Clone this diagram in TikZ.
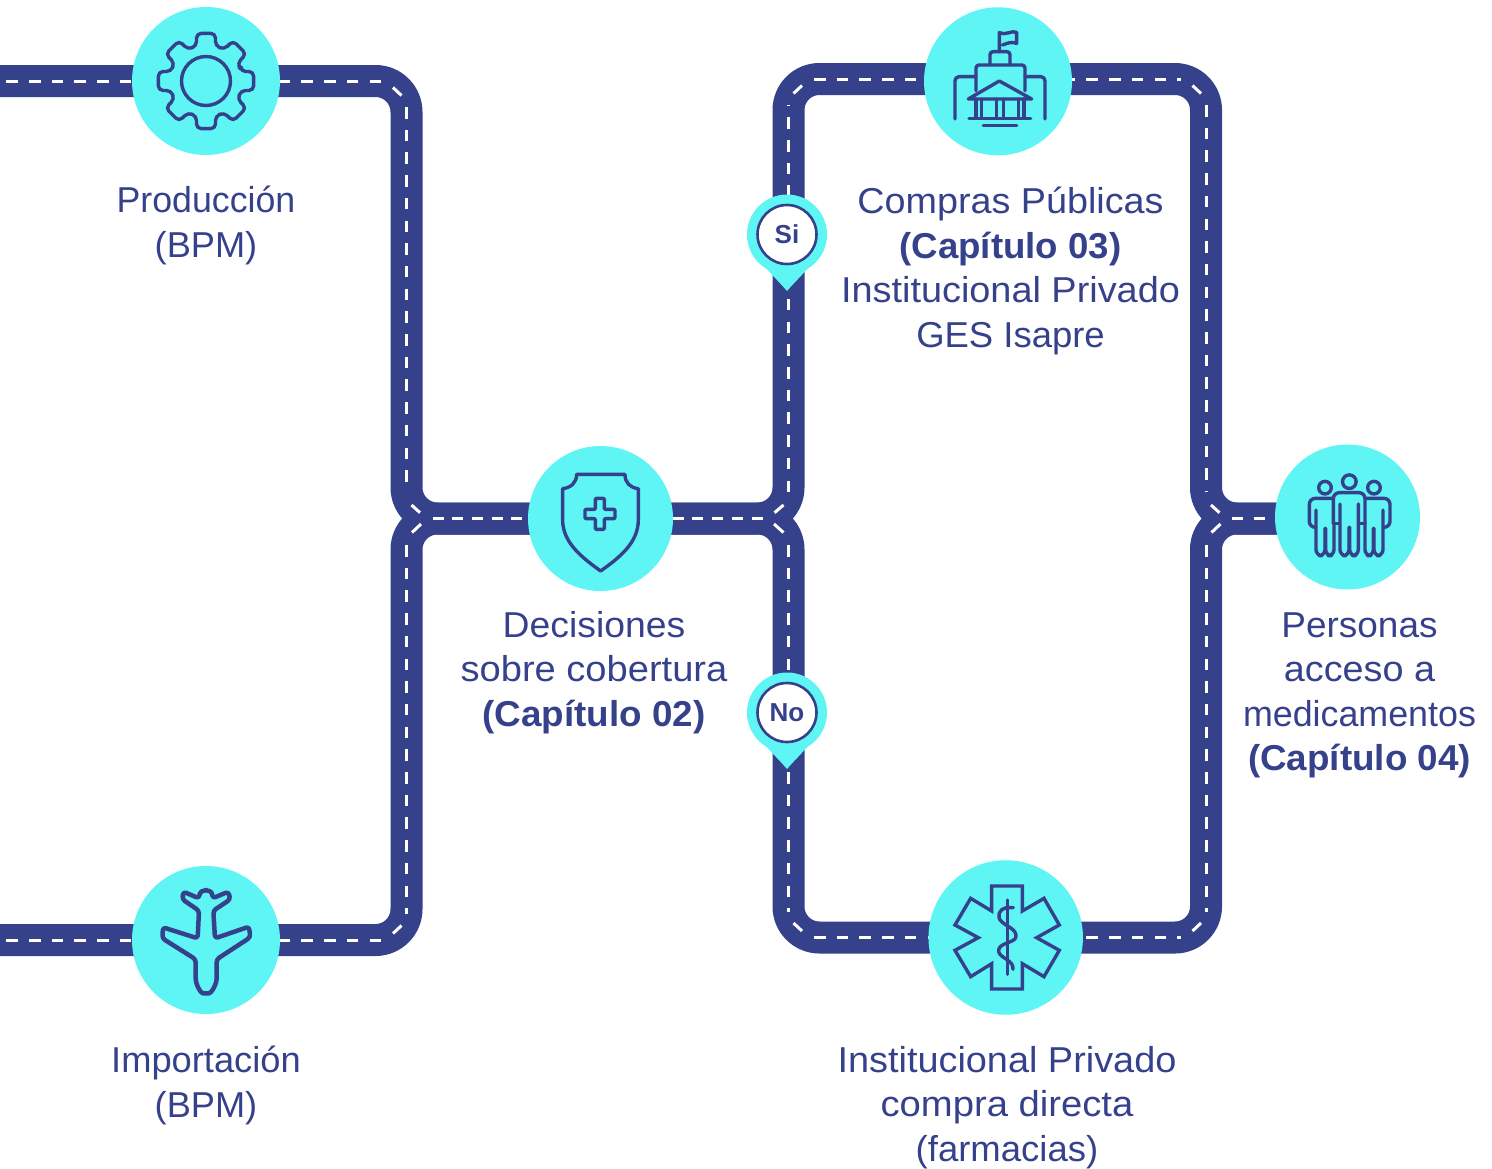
\documentclass[tikz,border=0pt]{standalone}
\usepackage{fontspec}
\usepackage{graphicx}
\setmainfont{Liberation Sans}
\usetikzlibrary{calc,backgrounds}
\definecolor{navy}{RGB}{54,65,139}
\definecolor{aqua}{RGB}{95,245,245}
\newcommand{\fitw}[2]{\scalebox{#1}[1]{#2}}
\tikzset{
  road/.style={draw=navy,line width=32pt,rounded corners=31pt},
  lane/.style={draw=white,line width=3pt,dash pattern=on 11.5pt off 11.2pt},
  laneb/.style={draw=white,line width=3pt,dash pattern=on 11pt off 8.7pt},
  stub/.style={draw=white,line width=3pt},
  hub/.style={circle,fill=aqua,inner sep=0pt},
  lbl/.style={align=center,text=navy,inner sep=0pt,font=\fontsize{36pt}{44.6pt}\selectfont},
  pinring/.style={circle,draw=navy,fill=white,line width=2.6pt,minimum size=59pt,inner sep=0pt,text=navy,font=\fontsize{26pt}{30pt}\selectfont\bfseries},
  pinback/.style={circle,fill=aqua,minimum size=80pt,inner sep=0pt},
  icon/.style={draw=navy,line width=3.4pt,line cap=round,line join=round}
}
\begin{document}
\begin{tikzpicture}[x=1pt,y=-1pt]
\useasboundingbox (0,0) rectangle (1492,1168);
% hubs
\node[hub,minimum size=148pt] (prod) at (206,81) {};
\node[hub,minimum size=148pt] (imp) at (206,940) {};
\node[hub,minimum size=145pt] (dec) at (600.5,518.5) {};
\node[hub,minimum size=148pt] (comp) at (998,81.3) {};
\node[hub,minimum size=154.5pt] (inst) at (1005.7,937.5) {};
\node[hub,minimum size=145pt] (pers) at (1347.5,517) {};
% road waypoints
\coordinate (eA) at (0,81);
\coordinate (eB) at (0,940);
\coordinate (cTL) at (406.5,81);
\coordinate (jL) at (406.5,518.5);
\coordinate (cBL) at (406.5,940);
\coordinate (cTM) at (788.5,79);
\coordinate (jM) at (788.5,518.5);
\coordinate (cBM) at (788.5,937.5);
\coordinate (cTR) at (1206,79);
\coordinate (jR) at (1206,518.5);
\coordinate (cBR) at (1206,937.5);
\begin{pgfonlayer}{background}
\draw[road] (eA) -- (prod.center) -- (cTL) -- (jL) -- (dec.center);
\draw[road] (eB) -- (imp.center) -- (cBL) -- (jL) -- (dec.center);
\draw[road] (dec.center) -- (jM) -- (cTM) -- (cTR) -- (jR) -- (jR -| pers.center);
\draw[road] (dec.center) -- (jM) -- (cBM) -- (cBR) -- (jR) -- (jR -| pers.center);
% lane markings
\draw[lane] ($(cTL)+(-25.5,0)$) -- (eA);
\draw[stub] ($(cTL)+(-13.5,6.5)$) -- ($(cTL)+(-5,14.5)$);
\draw[lane] ($(cTL)+(0,26)$) -- ($(jL)+(0,-26.5)$);
\draw[stub] ($(jL)+(5,-13.5)$) -- ($(jL)+(13.5,-5.8)$);
\draw[stub] ($(jL)+(14.5,5.5)$) -- ($(jL)+(5.5,14)$);
\draw[lane] ($(jL)+(0,26.5)$) -- ($(cBL)+(0,-26)$);
\draw[stub] ($(cBL)+(-5,-14.5)$) -- ($(cBL)+(-13.5,-6.5)$);
\draw[lane] ($(cBL)+(-25.5,0)$) -- (eB);
\draw[laneb] ($(jL)+(26,0)$) -- (dec.center);
\draw[laneb] ($(jM)+(-26,0)$) -- (dec.center);
\draw[stub] ($(jM)+(-5,-13.5)$) -- ($(jM)+(-14,-5.8)$);
\draw[stub] ($(jM)+(-14.5,5.5)$) -- ($(jM)+(-5,14)$);
\draw[lane] ($(jM)+(0,-26.5)$) -- ($(cTM)+(0,26)$);
\draw[stub] ($(cTM)+(5,14.5)$) -- ($(cTM)+(13.5,6.5)$);
\draw[lane] ($(cTM)+(25.5,0)$) -- ($(cTR)+(-25.5,0)$);
\draw[stub] ($(cTR)+(-13.5,6.5)$) -- ($(cTR)+(-5,14.5)$);
\draw[lane] ($(cTR)+(0,26)$) -- ($(jR)+(0,-26.5)$);
\draw[lane] ($(jM)+(0,26.5)$) -- ($(cBM)+(0,-26)$);
\draw[stub] ($(cBM)+(5,-14.5)$) -- ($(cBM)+(13.5,-6.5)$);
\draw[lane] ($(cBM)+(25.5,0)$) -- ($(cBR)+(-25.5,0)$);
\draw[stub] ($(cBR)+(-5,-14.5)$) -- ($(cBR)+(-13.5,-6.5)$);
\draw[lane] ($(jR)+(0,26.5)$) -- ($(cBR)+(0,-26)$);
\draw[stub] ($(jR)+(5,-13.5)$) -- ($(jR)+(13.5,-5.8)$);
\draw[stub] ($(jR)+(14.5,5.5)$) -- ($(jR)+(5.5,14)$);
\draw[laneb,dash pattern=on 11pt off 10.5pt] ($(jR)+(26,0)$) -- (jR -| pers.center);
\end{pgfonlayer}
% gear
\begin{scope}[shift={(206,81)}]
\draw[icon] (0,0) circle[radius=24.5pt];
\draw[icon,rounded corners=4.5pt] (-15.2:36.3)
  \foreach \a in {0,45,...,315}{ -- (\a-11.2:48.5) -- (\a+11.2:48.5) -- (\a+15.2:36.3) -- (\a+29.8:36.3)} -- cycle;
\end{scope}
% building (zoom coordinates)
\begin{scope}[shift={(900,0)},x=0.3333pt,y=-0.3333pt]
\draw[icon] (298,155) -- (298,98) .. controls (315,108) and (335,90) .. (350,97) -- (350,130) .. controls (335,124) and (320,130) .. (308,135);
\draw[icon,rounded corners=3pt] (270,195) -- (270,155) -- (330,155) -- (330,195);
\draw[icon,rounded corners=3pt] (228,272) -- (228,195) -- (375,195) -- (375,272);
\draw[icon,rounded corners=4pt] (165,357) -- (165,230) -- (228,230);
\draw[icon,rounded corners=4pt] (435,357) -- (435,230) -- (375,230);
\draw[icon] (205,297) -- (298,243) -- (395,297) -- cycle;
\foreach \cx in {228,245,290,310,355,372}{\draw[icon] (\cx,297) -- (\cx,355);}
\draw[icon] (207,355) -- (392,355);
\draw[icon] (250,376) -- (350,376);
\end{scope}
% shield
\begin{scope}[shift={(380,440)},x=0.3333pt,y=-0.3333pt]
\draw[icon] (590,103) -- (735,103) .. controls (735,128) and (750,143) .. (775,146) -- (775,240) .. controls (775,310) and (715,355) .. (662,393) .. controls (610,355) and (548,310) .. (548,240) -- (548,146) .. controls (573,143) and (590,128) .. (590,103) -- cycle;
\draw[icon,rounded corners=1pt] (646,175) -- (673,175) -- (673,208) -- (705,208) -- (705,236) -- (673,236) -- (673,268) -- (646,268) -- (646,236) -- (615,236) -- (615,208) -- (646,208) -- cycle;
\end{scope}
% people
\begin{scope}[shift={(1180,440)},x=0.3333pt,y=-0.3333pt]
\draw[icon] (508,125) circle[radius=6.8pt];
\draw[icon] (435,143) circle[radius=6.3pt];
\draw[icon] (582,143) circle[radius=6.3pt];
\draw[icon,rounded corners=6pt] (460,250) -- (460,158) -- (555,158) -- (555,250);
\draw[icon] (460,250) -- (475,250);
\draw[icon] (555,250) -- (540,250);
\draw[icon,rounded corners=6pt] (480,192) -- (480,347) -- (507,347) -- (507,262);
\draw[icon,rounded corners=6pt] (509,262) -- (509,347) -- (535,347) -- (535,192);
\draw[icon,rounded corners=6pt] (458,175) -- (388,175) -- (388,262) -- (407,262);
\draw[icon,rounded corners=6pt] (408,210) -- (408,347) -- (435,347) -- (435,265);
\draw[icon,rounded corners=6pt] (437,265) -- (437,347) -- (462,347) -- (462,250);
\draw[icon,rounded corners=6pt] (558,175) -- (630,175) -- (630,262) -- (610,262);
\draw[icon,rounded corners=6pt] (609,210) -- (609,347) -- (582,347) -- (582,265);
\draw[icon,rounded corners=6pt] (580,265) -- (580,347) -- (555,347) -- (555,250);
\end{scope}
% star of life
\begin{scope}[shift={(920,855)},x=0.3333pt,y=-0.3333pt]
\draw[icon,line join=miter] (215,93) -- (307,93) -- (307,168) -- (372,130) -- (418,210) -- (350,248) -- (418,286) -- (372,365) -- (307,326) -- (307,402) -- (215,402) -- (215,326) -- (152,365) -- (105,286) -- (175,248) -- (105,210) -- (152,130) -- (215,168) -- cycle;
\draw[icon] (262,135) -- (262,358);
\draw[icon] (280,158) -- (258,158) .. controls (238,162) and (228,185) .. (245,200) .. controls (260,215) and (290,222) .. (288,245) .. controls (286,265) and (232,262) .. (236,290) .. controls (240,310) and (282,315) .. (279,343);
\end{scope}
% plane
\begin{scope}[shift={(125,860)},x=0.3333pt,y=-0.3333pt]
\draw[icon,line width=4.5pt,rounded corners=3pt] (222,115) .. controls (226,85) and (260,85) .. (263,115) -- (310,95) -- (316,118) -- (265,152) -- (270,235) -- (372,200) -- (376,232) -- (275,298) -- (275,345) .. controls (275,375) and (258,400) .. (243,400) .. controls (228,400) and (212,375) .. (212,345) -- (212,298) -- (112,235) -- (114,202) -- (218,235) -- (222,152) -- (172,118) -- (175,95) -- cycle;
\end{scope}
% pins
\foreach \n/\y/\t in {Si/234.5/Si,No/712.5/No}{
  \node[pinback] (back\n) at (787,\y) {};
  \coordinate (tip\n) at (787,\y+56.5);
  \fill[aqua] ($(back\n)+(-40,0)$) .. controls ($(back\n)+(-40,18)$) and ($(back\n)+(-14,40)$) .. (tip\n) .. controls ($(back\n)+(14,40)$) and ($(back\n)+(40,18)$) .. ($(back\n)+(40,0)$) -- cycle;
  \node[pinring] (pin\n) at (back\n) {\t};
}
% labels
\node[lbl] (tProd) at (206,225.5) {\fitw{.992}{Producción}\\\fitw{1.006}{(BPM)}};
\node[lbl] (tImp) at (206,1085.5) {\fitw{1.008}{Importación}\\\fitw{1.006}{(BPM)}};
\node[lbl] (tDec) at (594,672.5) {\fitw{1.037}{Decisiones}\\\fitw{1.058}{sobre cobertura}\\\fitw{1.023}{\textbf{(Capítulo 02)}}};
\node[lbl] (tComp) at (1010.5,271) {\fitw{1.048}{Compras Públicas}\\\fitw{1.018}{\textbf{(Capítulo 03)}}\\\fitw{1.052}{Institucional Privado}\\\fitw{1.013}{GES Isapre}};
\node[lbl] (tInst) at (1007,1107.5) {\fitw{1.052}{Institucional Privado}\\\fitw{1.062}{compra directa}\\\fitw{1.014}{(farmacias)}};
\node[lbl] (tPers) at (1359.5,695.3) {\fitw{1.026}{Personas}\\\fitw{1.049}{acceso a}\\\fitw{.995}{medicamentos}\\\fitw{1.023}{\textbf{(Capítulo 04)}}};
\end{tikzpicture}
\end{document}
